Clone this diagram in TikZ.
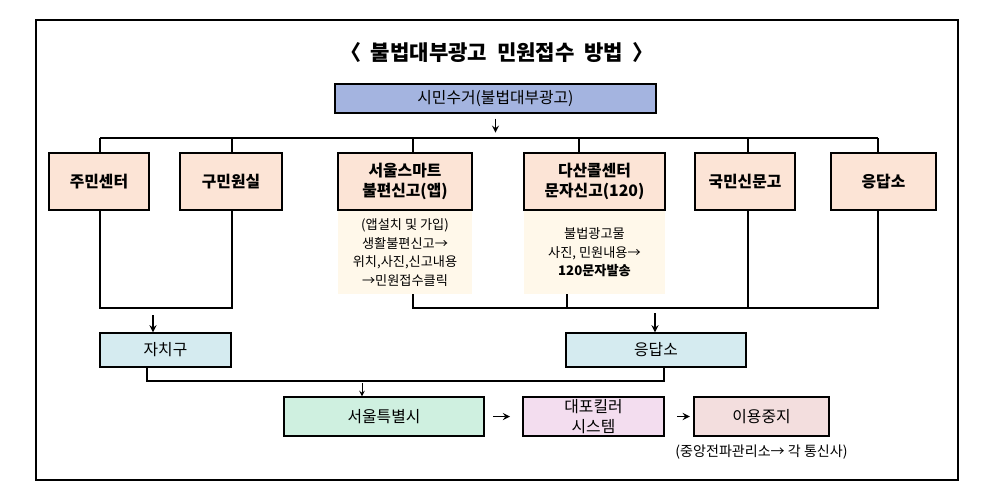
\documentclass[tikz,border=0pt]{standalone}
\usepackage{fontspec}
\setmainfont{Noto Sans CJK KR}
\usetikzlibrary{positioning}
\tikzset{
  box/.style={draw, thick, font=\bfseries\fontsize{9}{11}\selectfont, align=center, inner sep=0pt},
  note/.style={font=\fontsize{7.5}{10.5}\selectfont, align=center, inner sep=0pt},
  link/.style={thick},
  arr/.style={thick, ->, >=stealth}
}
\definecolor{topblue}{HTML}{A4B4E0}
\definecolor{peach}{HTML}{FCE4D6}
\definecolor{cyanbox}{HTML}{D5EBF0}
\definecolor{greenbox}{HTML}{CFF0E0}
\definecolor{pinkbox}{HTML}{F3DDEF}
\definecolor{rosebox}{HTML}{F3DEDE}
\definecolor{notebg}{HTML}{FFF8EA}
\begin{document}
\begin{tikzpicture}[x=0.02cm, y=-0.02cm]
    \useasboundingbox (0,0) rectangle (991,485);
    \draw[thick] (36,20) rectangle (958,480);

    \node[font=\bfseries\fontsize{12}{14}\selectfont] (title) at (497,52) {〈 \ 불법대부광고 \ 민원접수 \ 방법 \ 〉};

    \node[box, fill=topblue, font=\fontsize{9}{11}\selectfont, minimum width=321*0.02cm, minimum height=29*0.02cm] (top) at (495.5,98.5) {시민수거(불법대부광고)};

    % first row
    \node[box, fill=peach, minimum width=100*0.02cm, minimum height=57*0.02cm] (jumin) at (99,181.5) {주민센터};
    \node[box, fill=peach, minimum width=102*0.02cm, minimum height=57*0.02cm] (gumin) at (231,181.5) {구민원실};
    \node[box, fill=peach, minimum width=134*0.02cm, minimum height=57*0.02cm] (smart) at (405,181.5) {서울스마트\\불편신고(앱)};
    \node[box, fill=peach, minimum width=141*0.02cm, minimum height=57*0.02cm] (dasan) at (594.5,181.5) {다산콜센터\\문자신고(120)};
    \node[box, fill=peach, minimum width=100*0.02cm, minimum height=57*0.02cm] (gukmin) at (745,181.5) {국민신문고};
    \node[box, fill=peach, minimum width=105*0.02cm, minimum height=57*0.02cm] (eungdap) at (883.5,181.5) {응답소};

    \node[note, fill=notebg, minimum width=134*0.02cm, minimum height=83*0.02cm, below=0pt of smart] (smartnote) {(앱설치 및 가입)\\생활불편신고→\\위치,사진,신고내용\\→민원접수클릭};
    \node[note, fill=notebg, minimum width=141*0.02cm, minimum height=83*0.02cm, below=0pt of dasan] (dasannote) {불법광고물\\사진, 민원내용→\\\textbf{120문자발송}};

    % second row
    \node[box, fill=cyanbox, font=\fontsize{9}{11}\selectfont, minimum width=131*0.02cm, minimum height=34*0.02cm] (jachigu) at (165.5,350) {자치구};
    \node[box, fill=cyanbox, font=\fontsize{9}{11}\selectfont, minimum width=180*0.02cm, minimum height=34*0.02cm] (eungdap2) at (656,350) {응답소};

    % third row
    \node[box, fill=greenbox, font=\fontsize{9}{11}\selectfont, minimum width=200*0.02cm, minimum height=39*0.02cm] (seoul) at (384,416.5) {서울특별시};
    \node[box, fill=pinkbox, font=\fontsize{9}{11}\selectfont, minimum width=141*0.02cm, minimum height=39*0.02cm] (killer) at (593.5,416.5) {대포킬러\\시스템};
    \node[box, fill=rosebox, font=\fontsize{9}{11}\selectfont, minimum width=135*0.02cm, minimum height=39*0.02cm] (stop) at (761.5,416.5) {이용중지};
    \node[font=\fontsize{8}{10}\selectfont, below=1pt of stop] (stopnote) {(중앙전파관리소→ 각 통신사)};

    % connectors
    \draw[arr] (top.south) ++(0,5) -- ++(0,14);
    \draw[link] (100,138) -- (878,138);
    \draw[link] (100,138) -- (jumin.north -| 100,0);
    \draw[link] (232,138) -- (gumin.north -| 232,0);
    \draw[link] (413,138) -- (smart.north -| 413,0);
    \draw[link] (579,138) -- (dasan.north -| 579,0);
    \draw[link] (748,138) -- (gukmin.north -| 748,0);
    \draw[link] (878,138) -- (eungdap.north -| 878,0);

    \draw[link] (jumin.south -| 100,0) -- (100,308) -- (232,308) -- (gumin.south -| 232,0);
    \draw[arr] (153,315) -- (jachigu.north -| 153,0);

    \draw[link] (smartnote.south -| 413,0) -- (413,308) -- (878,308) -- (eungdap.south -| 878,0);
    \draw[link] (dasannote.south -| 567,0) -- (567,308);
    \draw[link] (gukmin.south -| 748,0) -- (748,308);
    \draw[arr] (655,313) -- (eungdap2.north -| 655,0);

    \draw[link] (jachigu.south -| 147,0) -- (147,381) -- (664,381) -- (eungdap2.south -| 664,0);
    \draw[->, >=stealth] (362,383) -- (seoul.north -| 362,0);

    \draw[arr] ([xshift=5pt]seoul.east) -- ([xshift=-7pt]killer.west);
    \draw[arr] ([xshift=7pt]killer.east) -- ([xshift=-2pt]stop.west);
\end{tikzpicture}
\end{document}
